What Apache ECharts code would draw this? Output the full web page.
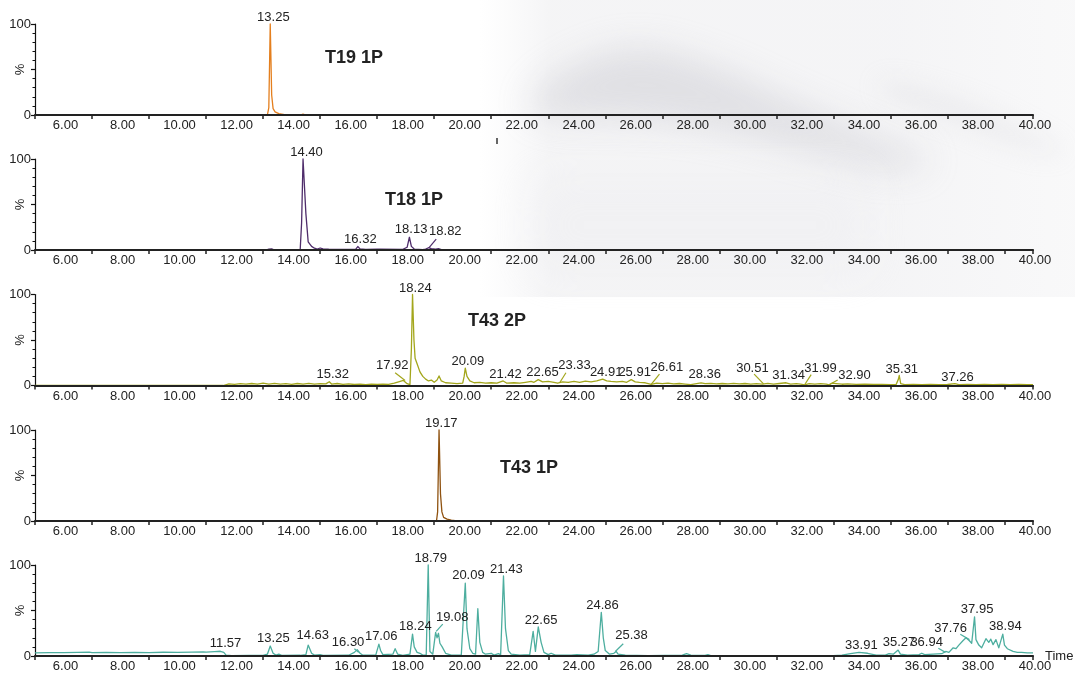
<!DOCTYPE html>
<html><head><meta charset="utf-8">
<script src="https://cdn.jsdelivr.net/npm/echarts@6/dist/echarts.min.js"></script>
<style>html,body{margin:0;padding:0;background:#fff}#c{width:1075px;height:675px}</style>
</head><body><div id="c"></div>
<script>
// ---- axis ticks / labels ----
const xTickValues = [5,7,9,11,13,15,17,19,21,23,25,27,29,31,33,35,37,39,40];
const xLabelValues = [6,8,10,12,14,16,18,20,22,24,26,28,30,32,34,36,38,40];
const yLabelValues = [0,50,100];

// ---- sample names ----
const sampleNames = ['T19 1P','T18 1P','T43 2P','T43 1P'];

// ---- traces [time, %] ----
const traceT19_1P = [[5,0],[13.15,0],[13.2,8],[13.25,100],[13.3,22],[13.35,7],[13.42,3.5],[13.55,1.5],[13.8,0],[14.3,0],[14.4,0.9],[14.5,0],[16.98,0],[17.05,1.8],[17.12,0],[40,0]];

const traceT18_1P = [[5,0],[13.1,0],[13.2,1],[13.3,1.2],[13.4,0],[14.3,0],[14.35,30],[14.4,100],[14.5,40],[14.58,9],[14.7,4],[14.8,2],[14.9,1],[15.0,2.2],[15.1,1.2],[15.3,0.8],[16.0,0.6],[16.25,1],[16.32,3.8],[16.4,1.2],[16.6,0.7],[17.0,0.8],[17.05,2],[17.1,0.8],[17.9,0.7],[18.05,3],[18.13,14],[18.2,4],[18.3,1],[18.6,0.5],[18.7,1],[18.8,2.5],[18.9,1.5],[19.05,1],[19.15,1.6],[19.3,0],[40,0]];

const traceT43_2P = [[5,0],[11.6,0],[11.65,1.2],[11.8,1.8],[12.0,1.2],[12.2,2],[12.4,1.5],[12.6,2.2],[12.8,1.4],[13.0,2.5],[13.2,1.6],[13.4,2.3],[13.6,1.5],[13.8,2],[14.0,1.3],[14.2,2.2],[14.4,1.6],[14.6,2.4],[14.8,1.4],[15.0,2.0],[15.2,1.8],[15.32,4.2],[15.4,1.6],[15.6,2.2],[15.8,1.2],[16.0,1.8],[16.2,1.1],[16.4,1.6],[16.6,1.0],[16.8,1.4],[17.0,1.1],[17.2,1.6],[17.4,1.2],[17.6,2.5],[17.75,4],[17.92,5.5],[18.05,2],[18.15,1],[18.2,40],[18.24,100],[18.29,50],[18.33,30],[18.4,24],[18.5,15],[18.6,10],[18.7,7],[18.8,5],[18.9,6],[19.0,3.5],[19.1,6],[19.17,10.5],[19.25,5],[19.4,3],[19.6,2.5],[19.8,2],[20.0,2.5],[20.05,10],[20.09,19],[20.15,10],[20.25,5],[20.4,3],[20.6,3.5],[20.8,2.5],[21.0,3],[21.2,2.5],[21.42,5],[21.55,2.5],[21.8,3],[22.0,2.5],[22.2,3.5],[22.4,4.5],[22.5,3.5],[22.65,6.5],[22.8,4],[23.0,4.5],[23.2,3.5],[23.33,2.5],[23.5,4],[23.7,3.5],[23.9,4.5],[24.1,3.5],[24.3,4.8],[24.5,4],[24.7,5],[24.91,7],[25.05,5],[25.2,4.5],[25.4,4],[25.6,4.5],[25.75,3.5],[25.91,6.5],[26.05,4],[26.2,3.5],[26.4,3],[26.61,1.2],[26.8,2.5],[27.0,2],[27.2,2.5],[27.4,1.8],[27.6,2.2],[27.8,1.6],[28.0,1],[28.2,2],[28.36,2.8],[28.5,2],[28.7,2.4],[28.9,1.8],[29.1,2.2],[29.3,1.8],[29.5,2.4],[29.7,1.8],[29.9,2.2],[30.1,1.6],[30.3,2],[30.51,1.6],[30.7,2.4],[30.9,1.6],[31.1,2.2],[31.34,3],[31.5,1.6],[31.7,2],[31.85,1.4],[31.99,0.8],[32.15,2],[32.35,1.6],[32.55,2],[32.75,1.5],[32.85,0.8],[32.95,2.5],[33.1,2],[33.3,1.4],[33.5,1.7],[33.8,1.2],[34.1,1.5],[34.4,1.1],[34.7,1.3],[35.0,1.0],[35.2,1.2],[35.28,7],[35.31,11],[35.36,2],[35.5,1],[35.8,1.3],[36.1,0.9],[36.4,1.2],[36.7,0.9],[37.0,1.1],[37.26,2],[37.4,1],[37.7,1.2],[38.0,0.8],[38.3,1.1],[38.6,0.8],[38.9,1.2],[39.2,0.9],[39.5,1.1],[39.8,0.8],[40,1]];

const traceT43_1P = [[5,0],[19.08,0],[19.12,10],[19.17,100],[19.22,30],[19.27,10],[19.33,4],[19.45,2],[19.6,1],[19.8,0],[25.25,0],[25.32,1.2],[25.4,0],[40,0]];

const traceMix = [[5.0,3.5],[5.5,3.8],[6.0,3.6],[6.5,3.9],[6.9,4.2],[7.0,3.7],[7.5,3.9],[8.0,3.6],[8.5,4.0],[9.0,3.8],[9.5,4.1],[10.0,3.9],[10.5,4.3],[10.9,4.6],[11.0,4.2],[11.3,4.8],[11.5,5.2],[11.57,6.3],[11.62,4.0],[11.7,1.0],[11.9,0.5],[12.5,0.6],[13.0,0.6],[13.15,2],[13.25,11],[13.35,3],[13.45,1],[13.55,2],[13.65,0.7],[14.3,0.8],[14.5,1.5],[14.58,12],[14.63,14],[14.7,3],[14.8,1],[15.0,1.5],[15.1,0.7],[16.0,0.8],[16.2,4],[16.3,7],[16.4,3],[16.5,0.8],[16.95,1],[17.06,13],[17.12,6],[17.2,1.5],[17.55,2],[17.63,8],[17.72,2],[17.9,0.8],[18.15,2],[18.24,24],[18.3,10],[18.4,4],[18.5,3],[18.6,1],[18.72,1],[18.79,100],[18.85,5],[18.95,2],[19.05,26],[19.1,20],[19.15,25],[19.2,14],[19.28,10],[19.4,3],[19.6,1],[19.95,1],[20.09,80],[20.15,30],[20.25,8],[20.35,3],[20.45,2],[20.53,52],[20.6,15],[20.7,4],[20.8,2],[21.0,3],[21.1,1],[21.25,2.5],[21.33,1.5],[21.43,88],[21.5,30],[21.6,6],[21.7,2],[22.0,1],[22.35,1.5],[22.47,27],[22.55,5],[22.65,32],[22.75,15],[22.85,4],[23.0,1.5],[23.1,3],[23.25,1],[23.8,1],[24.0,1.5],[24.4,1],[24.6,2],[24.75,5],[24.86,48],[24.93,20],[25.0,6],[25.15,2],[25.3,3],[25.38,5],[25.45,2],[25.7,1],[26.5,0.5],[27.7,1],[27.85,2.5],[28.0,1],[28.5,0.6],[28.6,1.5],[28.7,0.5],[30,0.4],[32,0.4],[33,0.5],[33.3,1],[33.6,2.5],[33.9,4],[34.2,3],[34.5,1],[34.8,0.8],[34.95,2.5],[35.1,2],[35.27,6.5],[35.35,2],[35.6,1],[36.0,1.5],[36.1,3],[36.2,1.5],[36.5,2],[36.8,2.5],[36.94,5],[37.05,4],[37.2,9],[37.3,8],[37.4,12],[37.55,17],[37.65,20],[37.76,17],[37.85,14],[37.95,43],[38.0,18],[38.1,12],[38.2,9],[38.35,19],[38.45,15],[38.52,18.5],[38.6,12.5],[38.7,18],[38.8,9],[38.94,24],[39.0,12],[39.1,8],[39.3,5],[39.45,4],[39.5,6],[39.6,4],[39.8,3.5],[40,3.5]];

// ---- peak labels [text, label time, label %] ----
const peaksT19_1P = [['13.25',13.36,100]];
const peaksT18_1P = [['14.40',14.52,100],['16.32',16.41,5],['18.13',18.19,15],['18.82',19.39,13.5]];
const peaksT43_2P = [['15.32',15.44,5],['17.92',17.53,15],['18.24',18.34,100],['20.09',20.18,19],['21.42',21.5,5],['22.65',22.8,7.5],['23.33',23.92,15],['24.91',25.03,7.5],['25.91',26.03,7.5],['26.61',27.16,13],['28.36',28.49,4.5],['30.51',30.16,12],['31.34',31.43,4],['31.99',32.55,12],['32.90',33.74,4],['35.31',35.4,10],['37.26',37.35,2]];
const peaksT43_1P = [['19.17',19.25,100]];
const peaksMix = [['11.57',11.68,6.5],['13.25',13.36,12],['14.63',14.74,15],['16.30',15.98,8],['17.06',17.14,14.5],['18.24',18.34,25],['18.79',18.88,100],['19.08',19.63,35],['20.09',20.2,81],['21.43',21.53,88.5],['22.65',22.75,32.5],['24.86',24.9,48.5],['25.38',25.92,15],['33.91',33.98,5],['35.27',35.3,7.5],['36.94',36.27,7.5],['37.76',37.11,23.5],['37.95',38.04,44],['38.94',39.03,25]];

// ---- leader lines [t1, v1, t2, v2] ----
const leadersT19_1P = [];
const leadersT18_1P = [[18.82,2.5,19.07,12]];
const leadersT43_2P = [[17.63,14,17.98,5.5],[23.4,3,23.62,14],[26.61,1.2,26.9,12.5],[30.22,12.5,30.55,1.8],[31.99,0.8,32.22,12],[32.85,0.8,33.15,6]];
const leadersT43_1P = [];
const leadersMix = [[16.2,8,16.35,4],[19.07,27,19.3,35],[25.35,5,25.63,13.5],[36.68,8.5,36.93,4],[37.45,24,37.77,18]];

// ---- build ----
const panels = [
  {trace: traceT19_1P, peaks: peaksT19_1P, leaders: leadersT19_1P, color: '#E47F1E'},
  {trace: traceT18_1P, peaks: peaksT18_1P, leaders: leadersT18_1P, color: '#4F2D6B'},
  {trace: traceT43_2P, peaks: peaksT43_2P, leaders: leadersT43_2P, color: '#A3A61C'},
  {trace: traceT43_1P, peaks: peaksT43_1P, leaders: leadersT43_1P, color: '#8F5210'},
  {trace: traceMix,    peaks: peaksMix,    leaders: leadersMix,    color: '#4DAE9F'}
];
const gridTops = [24, 159, 294.5, 430, 565];
const titlePos = [[325,49],[385,191],[468,312],[500,459]];
const FONT = '"Liberation Sans", Arial, sans-serif';
const INK = '#222';

const chart = echarts.init(document.getElementById('c'), null, {renderer: 'canvas'});

const grids = [], xAxes = [], yAxes = [], series = [];
panels.forEach((p, i) => {
  grids.push({left: 35, right: 42, top: gridTops[i], height: 91, containLabel: false, outerBoundsMode: 'none'});
  xAxes.push({
    type: 'value', gridIndex: i, min: 5, max: 40, z: 3,
    name: i === 4 ? 'Time' : '', nameLocation: 'end', nameGap: 12, nameMoveOverlap: false,
    nameTextStyle: {color: INK, fontSize: 13, fontFamily: FONT},
    axisLine: {show: true, onZero: false, lineStyle: {color: INK, width: 2.2}},
    axisTick: {show: true, customValues: xTickValues, length: 4, lineStyle: {color: INK, width: 1.5}},
    axisLabel: {show: true, customValues: xLabelValues, formatter: v => v.toFixed(2),
      color: INK, fontSize: 13, fontFamily: FONT, margin: 4, padding: [0,0,0,4]},
    splitLine: {show: false}
  });
  yAxes.push({
    type: 'value', gridIndex: i, min: 0, max: 100, interval: 50,
    name: '%', nameLocation: 'middle', nameRotate: 90, nameGap: 8, nameMoveOverlap: false,
    nameTextStyle: {color: INK, fontSize: 13, fontFamily: FONT},
    axisLine: {show: true, lineStyle: {color: '#111', width: 1.2}},
    axisTick: {show: true, length: 4, lineStyle: {color: '#111', width: 1.2}},
    minorTick: {show: true, splitNumber: 5, length: 2.5, lineStyle: {color: '#111', width: 1}},
    axisLabel: {customValues: yLabelValues, formatter: v => (v === 50 ? '' : String(v)),
      color: INK, fontSize: 13, fontFamily: FONT, margin: 4},
    splitLine: {show: false}
  });
  series.push({
    type: 'line', xAxisIndex: i, yAxisIndex: i, data: p.trace,
    showSymbol: false, symbol: 'none', clip: false, silent: true, z: 2,
    lineStyle: {color: p.color, width: 1.3, join: 'round'},
    itemStyle: {color: p.color},
    markPoint: {
      symbol: 'circle', symbolSize: 0, silent: true,
      label: {show: true, position: 'top', distance: 0, color: INK, fontSize: 13, fontFamily: FONT, formatter: '{b}'},
      data: p.peaks.map(k => ({name: k[0], coord: [k[1], k[2]]}))
    },
    markLine: {
      symbol: ['none','none'], silent: true, label: {show: false},
      lineStyle: {color: p.color, width: 1.2, type: 'solid'},
      data: p.leaders.map(l => [{coord: [l[0], l[1]]}, {coord: [l[2], l[3]]}])
    }
  });
});

const OFF = 2000;
function blob(type, shape, fill, blur) {
  return {type: type, shape: shape, z: -10, silent: true,
    style: {fill: fill, shadowBlur: blur, shadowColor: fill, shadowOffsetY: OFF}};
}
function shiftPts(pts) { return pts.map(q => [q[0], q[1] - OFF]); }

const graphics = [
  {type: 'rect', shape: {x: 480, y: 0, width: 595, height: 297}, z: -12, silent: true,
    style: {fill: new echarts.graphic.LinearGradient(0, 0, 1, 0, [
      {offset: 0, color: 'rgba(242,242,244,0)'},
      {offset: 0.12, color: 'rgba(240,240,242,0.7)'},
      {offset: 0.7, color: 'rgba(242,242,244,0.8)'},
      {offset: 1, color: 'rgba(247,247,248,0.8)'}])}},
  blob('polygon', {smooth: 0.4, points: shiftPts([[530,100],[580,62],[640,48],[710,65],[790,100],[870,135],[930,160],[900,170],[820,155],[740,135],[660,122],[580,118],[540,115]])}, 'rgba(190,190,196,0.6)', 35),
  blob('polygon', {smooth: 0.4, points: shiftPts([[880,80],[960,98],[1040,135],[1065,152],[1030,152],[950,122],[885,96]])}, 'rgba(200,200,205,0.45)', 25),
  blob('rect', {x: 530, y: 175 - OFF, width: 340, height: 100}, 'rgba(230,230,233,0.5)', 45),
  {type: 'line', shape: {x1: 497, y1: 138, x2: 497, y2: 144}, silent: true, style: {stroke: '#333', lineWidth: 1.5}}
];

chart.setOption({
  animation: false,
  backgroundColor: '#fff',
  textStyle: {fontFamily: FONT},
  title: sampleNames.map((n, i) => ({text: n, left: titlePos[i][0], top: titlePos[i][1], padding: 0,
    textStyle: {color: INK, fontSize: 18, fontWeight: 'bold', fontFamily: FONT}})),
  graphic: graphics,
  grid: grids, xAxis: xAxes, yAxis: yAxes, series: series
});
</script></body></html>
